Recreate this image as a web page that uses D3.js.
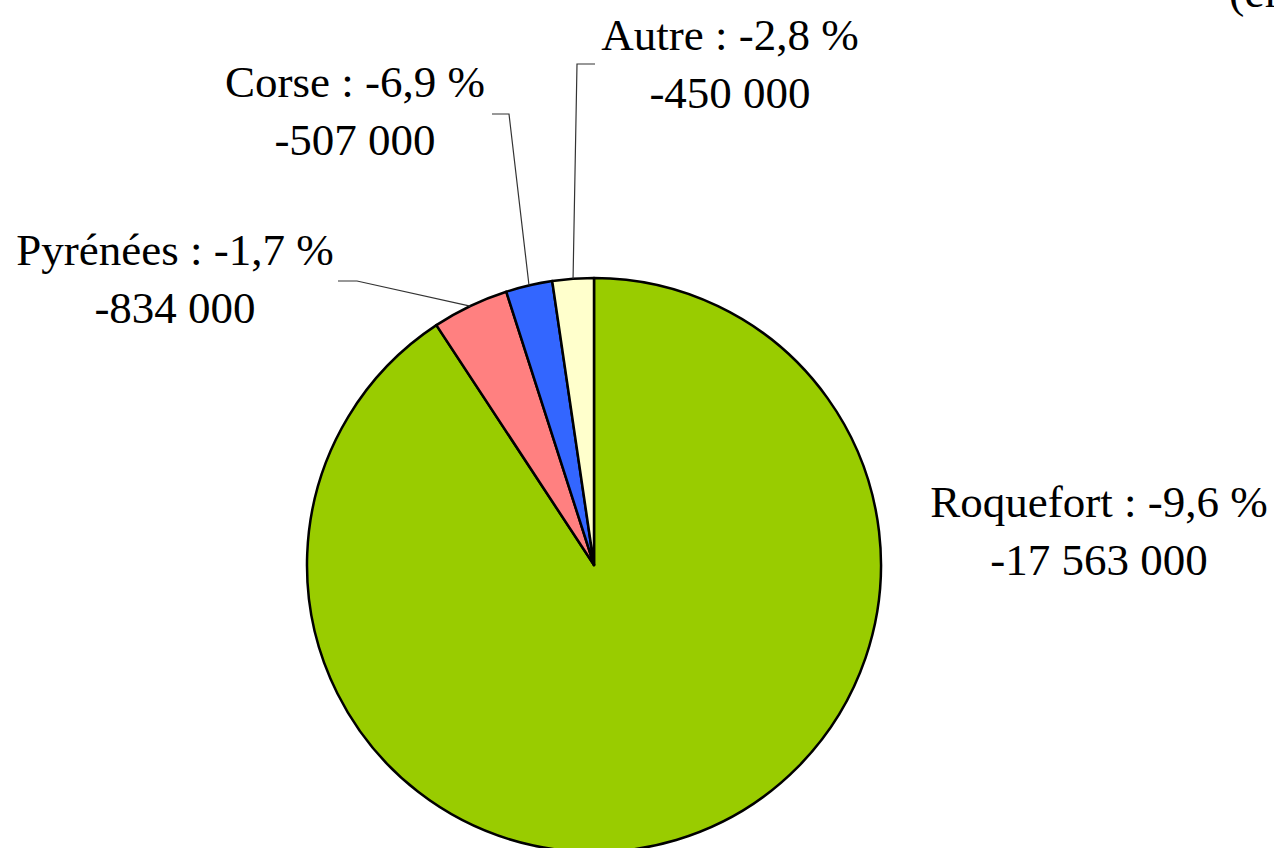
<!DOCTYPE html>
<html>
<head>
<meta charset="utf-8">
<script src="https://cdn.jsdelivr.net/npm/d3@7"></script>
<style>
  body { margin: 0; background: #fff; }
  svg { display: block; }
  text { font-family: "Liberation Serif", "Times New Roman", serif; fill: #000; }
</style>
</head>
<body>
<div id="chart"></div>
<script>
// Data
const categories = ["Roquefort", "Pyrénées", "Corse", "Autre"];
const volumes = [17563000, 834000, 507000, 450000];
const changes = ["-9,6 %", "-1,7 %", "-6,9 %", "-2,8 %"];
const volumeLabels = ["-17 563 000", "-834 000", "-507 000", "-450 000"];
const colors = ["#99cc00", "#ff8080", "#3366ff", "#ffffcc"];

const width = 1274, height = 848;
const cx = 594, cy = 565, radius = 287;

// label placement: text centre x, first baseline y, leader elbow [x0, x1, y]
const labelPos = [
  { x: 1099, y: 517, leader: null },
  { x: 175, y: 265, leader: [338, 357, 281] },
  { x: 355, y: 97, leader: [492, 509, 114] },
  { x: 730, y: 50, leader: [595, 577, 64] }
];

const data = categories.map((c, i) => ({
  name: c, value: volumes[i], change: changes[i], vol: volumeLabels[i], color: colors[i], pos: labelPos[i]
}));

const svg = d3.select("#chart").append("svg")
  .attr("width", width)
  .attr("height", height);

// subtitle mostly off the canvas
svg.append("text")
  .attr("x", 1229)
  .attr("y", 7)
  .style("font-size", "46px")
  .text("(en litres)");

const pie = d3.pie().sort(null).value(d => d.value);
const arc = d3.arc().innerRadius(0).outerRadius(radius);
const arcs = pie(data);

const g = svg.append("g").attr("transform", `translate(${cx},${cy})`);

g.selectAll("path.slice")
  .data(arcs)
  .enter()
  .append("path")
  .attr("class", "slice")
  .attr("d", arc)
  .attr("fill", d => d.data.color)
  .attr("stroke", "#000")
  .attr("stroke-width", 2.5)
  .attr("stroke-linejoin", "round");

// leader lines
arcs.forEach(a => {
  const L = a.data.pos.leader;
  if (!L) return;
  const mid = (a.startAngle + a.endAngle) / 2;
  const px = cx + radius * Math.sin(mid);
  const py = cy - radius * Math.cos(mid);
  svg.append("polyline")
    .attr("points", [[L[0], L[2]], [L[1], L[2]], [px, py]].map(p => p.join(",")).join(" "))
    .attr("fill", "none")
    .attr("stroke", "#333")
    .attr("stroke-width", 1.2);
});

// labels
const labels = svg.selectAll("text.lbl")
  .data(data)
  .enter()
  .append("text")
  .attr("class", "lbl")
  .attr("text-anchor", "middle")
  .style("font-size", "45px");

labels.append("tspan")
  .attr("x", d => d.pos.x)
  .attr("y", d => d.pos.y)
  .text(d => d.name + " : " + d.change);

labels.append("tspan")
  .attr("x", d => d.pos.x)
  .attr("y", d => d.pos.y + 58)
  .text(d => d.vol);
</script>
</body>
</html>
